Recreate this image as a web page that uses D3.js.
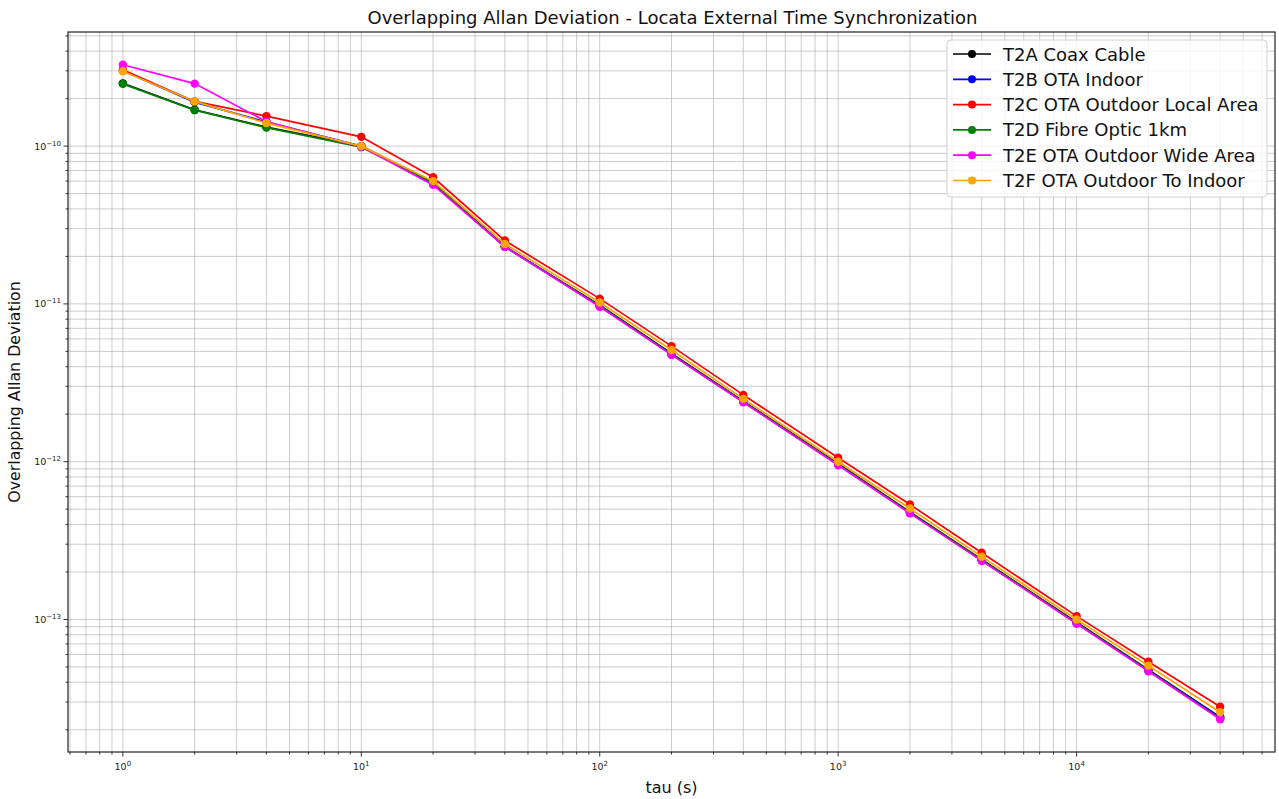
<!DOCTYPE html>
<html><head><meta charset="utf-8">
<script src="https://cdn.jsdelivr.net/npm/d3@7"></script>
<style>
body{margin:0;background:#fff;}
text{font-family:"DejaVu Sans",sans-serif;}
</style></head>
<body><svg id="c" width="1279" height="799"></svg>
<script>
const taus = [1,2,4,10,20,40,100,200,400,1000,2000,4000,10000,20000,40000];
const seriesNames = ["T2A Coax Cable","T2B OTA Indoor","T2C OTA Outdoor Local Area","T2D Fibre Optic 1km","T2E OTA Outdoor Wide Area","T2F OTA Outdoor To Indoor"];
const seriesColors = ["black","blue","red","green","magenta","orange"];
const t2a = [2.5e-10,1.7e-10,1.32e-10,1.0e-10,5.9e-11,2.3e-11,9.8e-12,4.85e-12,2.42e-12,9.7e-13,4.8e-13,2.4e-13,9.6e-14,4.8e-14,2.4e-14];
const t2b = [3.0e-10,1.9e-10,1.42e-10,1.0e-10,5.8e-11,2.32e-11,9.7e-12,4.8e-12,2.4e-12,9.6e-13,4.75e-13,2.38e-13,9.5e-14,4.75e-14,2.4e-14];
const t2c = [3.05e-10,1.92e-10,1.55e-10,1.145e-10,6.35e-11,2.52e-11,1.08e-11,5.4e-12,2.65e-12,1.06e-12,5.35e-13,2.65e-13,1.05e-13,5.4e-14,2.8e-14];
const t2d = [2.48e-10,1.69e-10,1.31e-10,0.985e-10,5.85e-11,2.3e-11,9.7e-12,4.8e-12,2.4e-12,9.6e-13,4.75e-13,2.38e-13,9.5e-14,4.75e-14,2.35e-14];
const t2e = [3.28e-10,2.49e-10,1.43e-10,0.99e-10,5.68e-11,2.3e-11,9.6e-12,4.75e-12,2.38e-12,9.5e-13,4.7e-13,2.35e-13,9.4e-14,4.7e-14,2.33e-14];
const t2f = [2.98e-10,1.92e-10,1.40e-10,1.0e-10,6.0e-11,2.4e-11,1.02e-11,5.1e-12,2.5e-12,1.0e-12,5.05e-13,2.5e-13,1.0e-13,5.1e-14,2.58e-14];
const seriesValues = [t2a,t2b,t2c,t2d,t2e,t2f];
const xTickExps = [0,1,2,3,4];
const yTickExps = [-10,-11,-12,-13];

const svg = d3.select("#c");
const L=68,R=1275,T=32,B=752;

function padLog(lo,hi){const a=Math.log10(lo),b=Math.log10(hi),p=(b-a)*0.05;return [Math.pow(10,a-p),Math.pow(10,b+p)];}
const allV = seriesValues.flat();
const x = d3.scaleLog().domain(padLog(d3.min(taus),d3.max(taus))).range([L,R]);
const y = d3.scaleLog().domain(padLog(d3.min(allV),d3.max(allV))).range([B,T]);

function logTicks(dom){
  const lo=Math.floor(Math.log10(dom[0])), hi=Math.ceil(Math.log10(dom[1]));
  const out=[];
  for(let e=lo;e<=hi;e++) for(let m=1;m<=9;m++){const v=m*Math.pow(10,e); if(v>=dom[0]&&v<=dom[1]) out.push({v,major:m===1});}
  return out;
}
const xt = logTicks(x.domain()), yt = logTicks(y.domain());
const g = svg.append("g");
g.selectAll(".gx").data(xt).enter().append("line")
  .attr("x1",d=>x(d.v)).attr("x2",d=>x(d.v)).attr("y1",T).attr("y2",B)
  .attr("stroke","#b0b0b0").attr("stroke-opacity",0.65).attr("stroke-width",1);
g.selectAll(".gy").data(yt).enter().append("line")
  .attr("y1",d=>y(d.v)).attr("y2",d=>y(d.v)).attr("x1",L).attr("x2",R)
  .attr("stroke","#b0b0b0").attr("stroke-opacity",0.65).attr("stroke-width",1);

g.selectAll(".tx").data(xt).enter().append("line")
  .attr("x1",d=>x(d.v)).attr("x2",d=>x(d.v)).attr("y1",B).attr("y2",d=>B+(d.major?4.5:2.5))
  .attr("stroke","#000").attr("stroke-width",0.8);
g.selectAll(".ty").data(yt).enter().append("line")
  .attr("y1",d=>y(d.v)).attr("y2",d=>y(d.v)).attr("x1",L).attr("x2",d=>L-(d.major?4.5:2.5))
  .attr("stroke","#000").attr("stroke-width",0.8);

xTickExps.forEach(e=>{
  const t=svg.append("text").attr("x",x(Math.pow(10,e))).attr("y",B+18).attr("text-anchor","middle")
    .attr("font-size",9.5).attr("fill","#222");
  t.append("tspan").text("10");
  t.append("tspan").attr("dy",-4).attr("font-size",7).text(String(e));
});
yTickExps.forEach(e=>{
  const t=svg.append("text").attr("x",L-7).attr("y",y(Math.pow(10,e))+3.5).attr("text-anchor","end")
    .attr("font-size",9.5).attr("fill","#222");
  t.append("tspan").text("10");
  t.append("tspan").attr("dy",-4).attr("font-size",7).text("\u2212"+String(-e));
});

const line = d3.line().x((d,i)=>x(taus[i])).y(d=>y(d));
seriesValues.forEach((vals,k)=>{
  const sg=svg.append("g");
  sg.append("path").attr("d",line(vals)).attr("fill","none").attr("stroke",seriesColors[k]).attr("stroke-width",1.7);
  sg.selectAll("circle").data(vals).enter().append("circle")
    .attr("cx",(d,i)=>x(taus[i])).attr("cy",d=>y(d)).attr("r",4.2).attr("fill",seriesColors[k]);
});

svg.append("rect").attr("x",L).attr("y",T).attr("width",R-L).attr("height",B-T)
  .attr("fill","none").attr("stroke","#222").attr("stroke-width",1.2);

svg.append("text").attr("x",(L+R)/2+1).attr("y",24).attr("text-anchor","middle").attr("font-size",18).attr("fill","#111")
  .text("Overlapping Allan Deviation - Locata External Time Synchronization");
svg.append("text").attr("x",(L+R)/2).attr("y",793).attr("text-anchor","middle").attr("font-size",16).attr("fill","#111").text("tau (s)");
svg.append("text").attr("transform",`translate(20,${(T+B)/2}) rotate(-90)`).attr("text-anchor","middle").attr("font-size",15.8).attr("fill","#111")
  .text("Overlapping Allan Deviation");

const lg = svg.append("g");
lg.append("rect").attr("x",947).attr("y",40).attr("width",320).attr("height",157).attr("rx",4)
  .attr("fill","#fff").attr("fill-opacity",0.8).attr("stroke","#d0d0d0");
seriesNames.forEach((n,k)=>{
  const yy=54+k*25.3;
  lg.append("line").attr("x1",953).attr("x2",991).attr("y1",yy).attr("y2",yy).attr("stroke",seriesColors[k]).attr("stroke-width",1.7);
  lg.append("circle").attr("cx",972).attr("cy",yy).attr("r",4).attr("fill",seriesColors[k]);
  lg.append("text").attr("x",1003).attr("y",yy+6.5).attr("font-size",18).attr("fill","#111").text(n);
});
</script></body></html>
